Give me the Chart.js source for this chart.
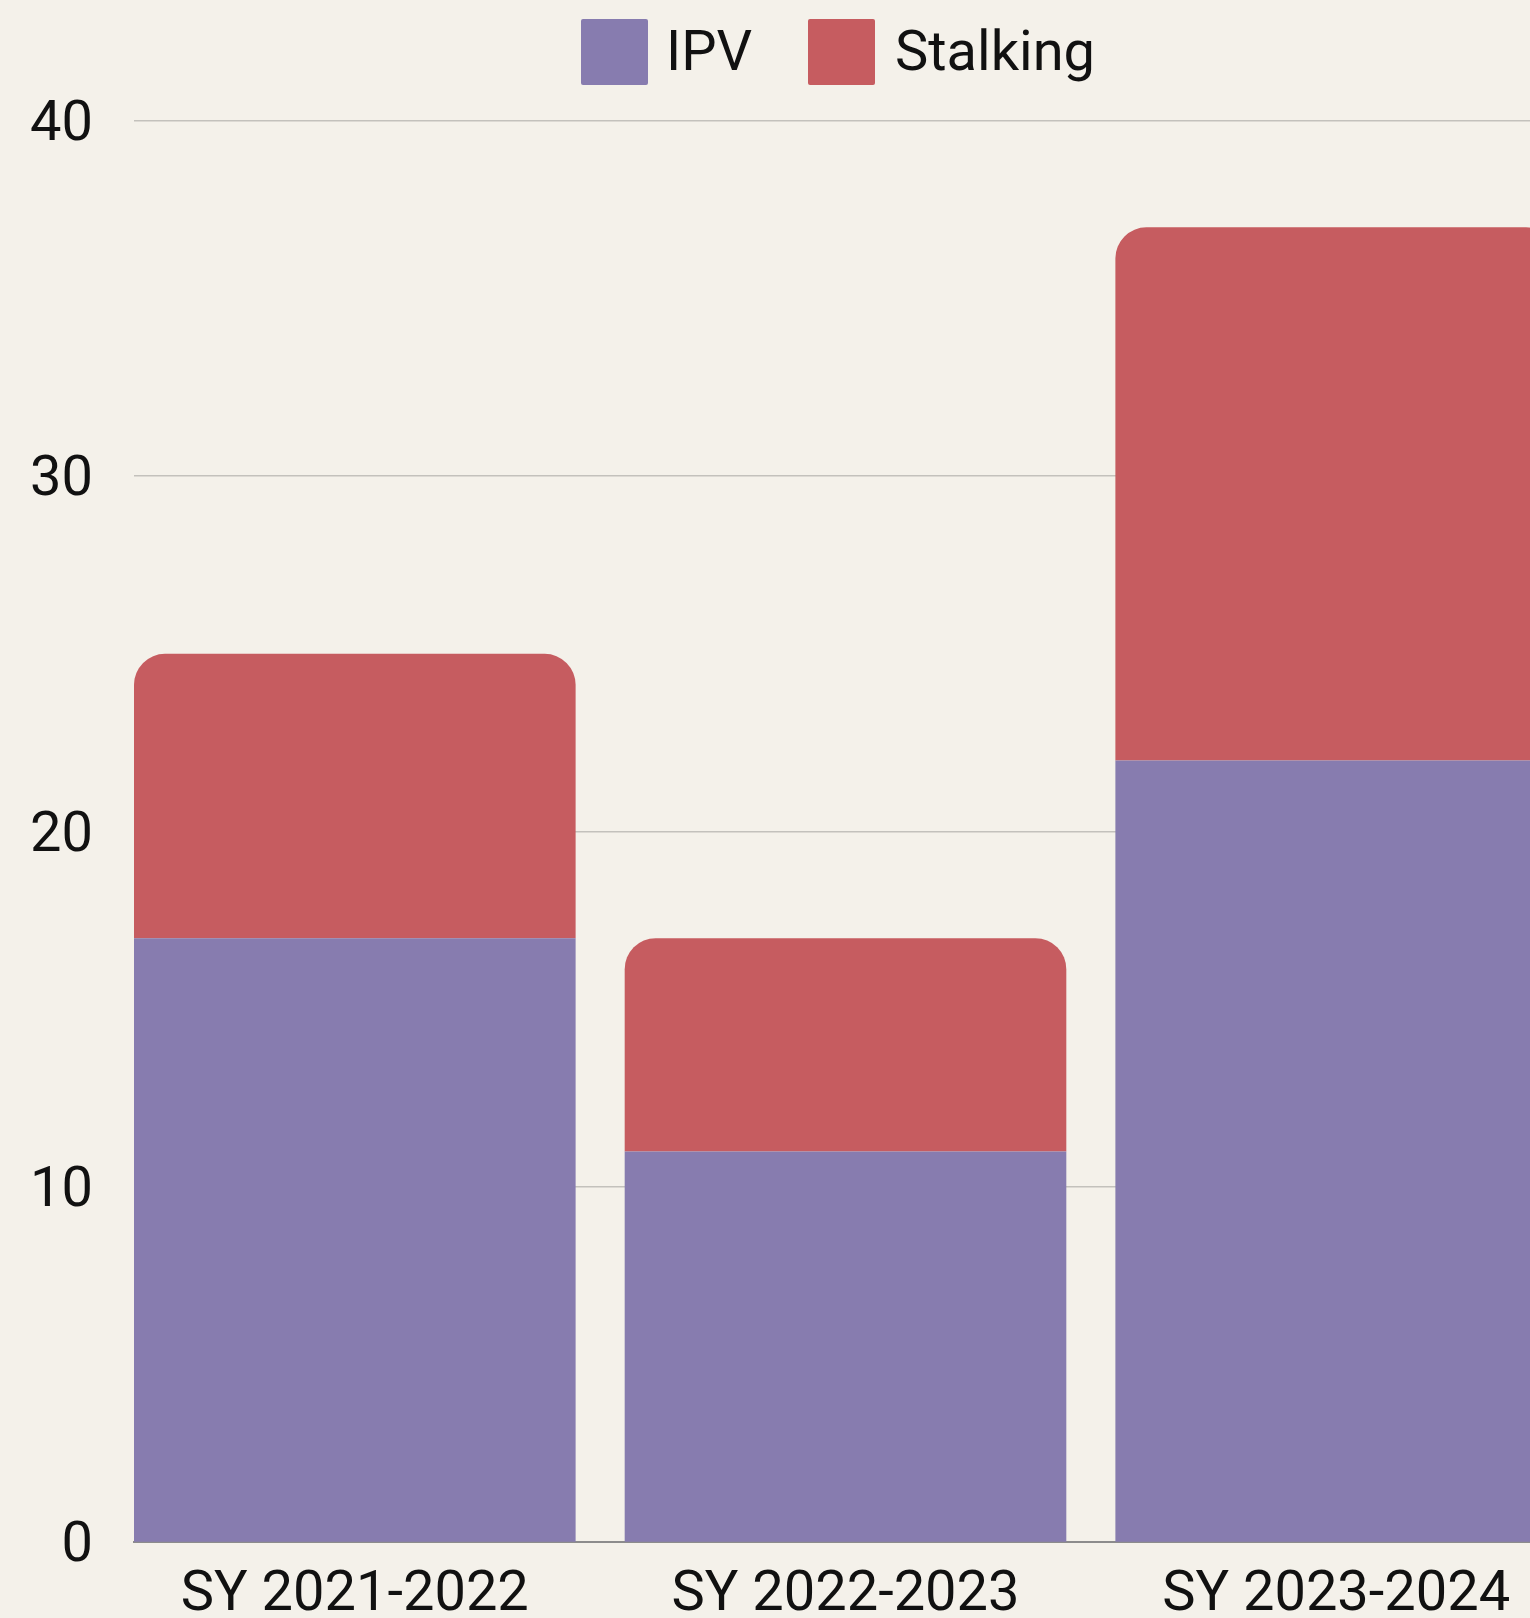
<!DOCTYPE html>
<html>
<head>
<meta charset="utf-8">
<script src="https://cdn.jsdelivr.net/npm/chart.js@4.4.1/dist/chart.umd.min.js"></script>
<style>
  html, body { margin: 0; padding: 0; background: #F4F1EA; overflow: hidden; }
  #wrap { position: relative; width: 1530px; height: 1618px; overflow: hidden; }
  #chartBox { position: absolute; left: 0; top: 0; }
  .lg-box { position: absolute; width: 67px; height: 66px; border-radius: 2px; }
  .lg-text { position: absolute; font-family: Roboto, sans-serif; font-size: 56px; line-height: 66px; color: #111; white-space: nowrap; }
</style>
</head>
<body>
<div id="wrap">
  <canvas id="chartBox" width="1557" height="1618"></canvas>
  <div id="legend"></div>
</div>
<script>
const categories = ['SY 2021-2022', 'SY 2022-2023', 'SY 2023-2024'];
const ipv = [17, 11, 22];
const stalking = [8, 6, 15];
const yTicks = [0, 10, 20, 30, 40];

const colors = { ipv: '#877CAF', stalking: '#C65C60' };

// html legend, so the spacing can follow the original
const legendItems = [
    { label: 'IPV', color: colors.ipv, boxX: 581, textX: 666 },
    { label: 'Stalking', color: colors.stalking, boxX: 808, textX: 895 }
];
const legendEl = document.getElementById('legend');
legendItems.forEach(item => {
    const box = document.createElement('div');
    box.className = 'lg-box';
    box.style.left = item.boxX + 'px';
    box.style.top = '19px';
    box.style.background = item.color;
    legendEl.appendChild(box);
    const txt = document.createElement('div');
    txt.className = 'lg-text';
    txt.style.left = item.textX + 'px';
    txt.style.top = '18px';
    txt.textContent = item.label;
    legendEl.appendChild(txt);
});

const tickFont = { family: 'Roboto', size: 56, lineHeight: 1.07 };

const ctx = document.getElementById('chartBox').getContext('2d');
const chart = new Chart(ctx, {
    type: 'bar',
    data: {
        datasets: [{
            label: 'IPV',
            data: ipv.map((v, i) => ({ x: i, y: v })),
            backgroundColor: colors.ipv,
            borderWidth: 0,
            borderRadius: 0,
            barPercentage: 0.9,
            categoryPercentage: 1
        }, {
            label: 'Stalking',
            data: stalking.map((v, i) => ({ x: i, y: v })),
            backgroundColor: colors.stalking,
            borderWidth: 0,
            borderRadius: { topLeft: 31, topRight: 31, bottomLeft: 0, bottomRight: 0 },
            barPercentage: 0.9,
            categoryPercentage: 1
        }]
    },
    options: {
        responsive: false,
        animation: false,
        layout: { padding: { top: 120.7, left: 0, right: 0, bottom: 0 } },
        plugins: {
            legend: { display: false },
            tooltip: { enabled: false }
        },
        scales: {
            x: {
                type: 'linear',
                stacked: true,
                offset: false,
                min: -0.45,
                max: 2.45,
                grid: { display: false, drawTicks: false },
                border: { display: true, color: '#8C8C8C', width: 2 },
                afterBuildTicks: scale => {
                    scale.ticks = categories.map((c, i) => ({ value: i }));
                },
                afterFit: scale => { scale.height = 75.6; },
                ticks: {
                    callback: value => categories[value],
                    font: tickFont,
                    color: '#111',
                    padding: 24,
                    maxRotation: 0,
                    autoSkip: false
                }
            },
            y: {
                stacked: true,
                min: 0,
                max: 40,
                afterBuildTicks: scale => {
                    scale.ticks = yTicks.map(v => ({ value: v }));
                },
                afterFit: scale => { scale.width = 134; },
                grid: {
                    color: c => c.tick.value === 0 ? 'rgba(0,0,0,0)' : '#C3C1BC',
                    lineWidth: 1.5,
                    drawTicks: false
                },
                border: { display: false },
                ticks: {
                    font: { family: 'Roboto', size: 56, lineHeight: 1.2 },
                    color: '#111',
                    padding: 41,
                    labelOffset: 5
                }
            }
        }
    }
});
</script>
</body>
</html>
